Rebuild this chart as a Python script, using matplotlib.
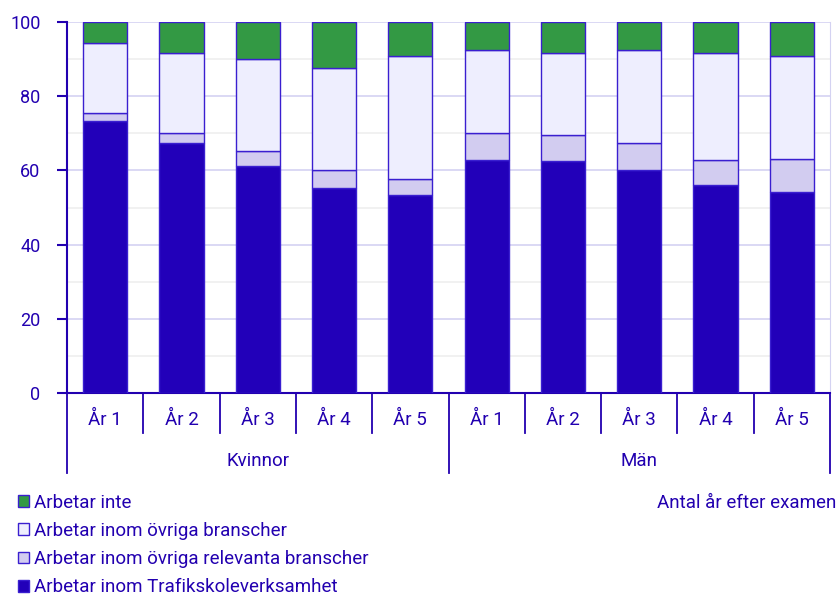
import numpy as np
import matplotlib; matplotlib.use("Agg")
import matplotlib.pyplot as plt
from matplotlib.lines import Line2D
from matplotlib.patches import Patch

plt.rcParams["font.family"] = ["Roboto", "DejaVu Sans"]

groups = ["Kvinnor", "Män"]
years = ["År 1", "År 2", "År 3", "År 4", "År 5"]
# share (%) per category, Kvinnor år 1-5 then Män år 1-5
trafikskola = [73.4, 67.3, 61.2, 55.2, 53.3, 62.9, 62.5, 60.1, 56.0, 54.2]
ovr_relevanta = [2.1, 2.8, 4.1, 4.8, 4.4, 7.1, 7.1, 7.4, 6.8, 8.9]
ovr_branscher = [18.8, 21.6, 24.6, 27.5, 33.2, 22.4, 22.1, 24.9, 28.9, 27.8]
arbetar_inte = [5.7, 8.3, 10.1, 12.5, 9.1, 7.6, 8.3, 7.6, 8.3, 9.1]

series = [
    ("Arbetar inom Trafikskoleverksamhet", trafikskola, "#2200b9"),
    ("Arbetar inom övriga relevanta branscher", ovr_relevanta, "#d2ccf0"),
    ("Arbetar inom övriga branscher", ovr_branscher, "#eeeefe"),
    ("Arbetar inte", arbetar_inte, "#339944"),
]
TXT = "#2200b0"
EDGE = "#3a1fd0"
FS = 13.5

fig = plt.figure(figsize=(8.38, 5.97), dpi=100)
ax = fig.add_axes([67 / 838, 1 - 393 / 597, (830 - 67) / 838, (393 - 22) / 597])

x = np.arange(len(trafikskola))
bottom = np.zeros(len(x))
for name, vals, col in series:
    ax.bar(x, vals, 0.58, bottom=bottom, color=col, edgecolor=EDGE, linewidth=1.0, zorder=3)
    bottom += np.array(vals)

ax.set_xlim(-0.5, len(x) - 0.5)
ax.set_ylim(0, 100)
ax.set_yticks(range(0, 101, 20))
ax.set_yticks(range(10, 100, 20), minor=True)
ax.grid(axis="y", which="major", color="#d4d2f2", lw=1.2, zorder=0)
ax.grid(axis="y", which="minor", color="#efefef", lw=1.2, zorder=0)
ax.tick_params(axis="y", which="major", colors=TXT, labelsize=13, length=7, width=1.5, pad=12)
ax.tick_params(axis="y", which="minor", length=0)
ax.tick_params(axis="x", length=0, labelbottom=False)
ax.spines["top"].set_visible(False)
ax.spines["right"].set_color("#d4d2f2")
ax.spines["left"].set_color(TXT)
ax.spines["left"].set_linewidth(1.5)
ax.spines["bottom"].set_color(TXT)
ax.spines["bottom"].set_linewidth(1.5)

# two-level category axis
tr = ax.get_xaxis_transform()
px = 1 / 371.0
for i in range(len(x) + 1):
    b = i - 0.5
    depth = 80 if i % 5 == 0 else 40
    ax.add_line(Line2D([b, b], [0, -depth * px], transform=tr, color=TXT, lw=1.3, clip_on=False))
for i in x:
    ax.text(i, -27 * px, years[i % 5], transform=tr, ha="center", va="center", color=TXT, fontsize=FS)
for g, name in enumerate(groups):
    ax.text(g * 5 + 2, -68 * px, name, transform=tr, ha="center", va="center", color=TXT, fontsize=FS)

handles = [Patch(facecolor=c, edgecolor=EDGE, label=n) for n, v, c in series[::-1]]
fig.legend(handles=handles, loc="upper left", bbox_to_anchor=(10.5 / 838, 1 - 486 / 597), frameon=False,
           labelcolor=TXT, fontsize=FS, handlelength=0.6, handleheight=0.6, handletextpad=0.27,
           labelspacing=0.55, borderaxespad=0)
fig.text(1 - 1.5 / 838, 1 - 503 / 597, "Antal år efter examen", ha="right", va="center", color=TXT, fontsize=FS)

fig.savefig("out.png", dpi=100)
